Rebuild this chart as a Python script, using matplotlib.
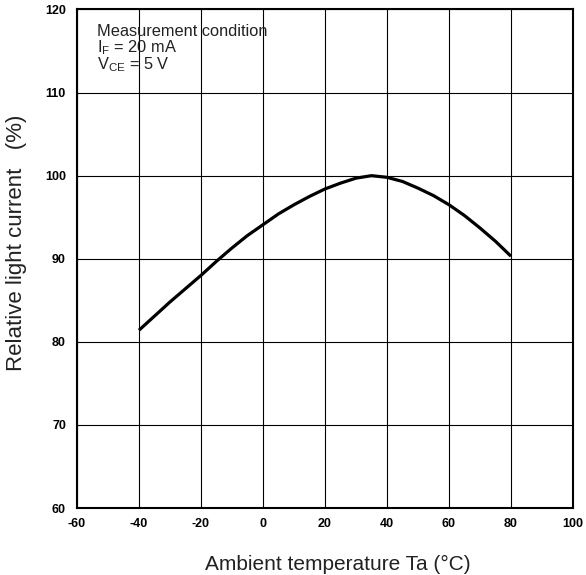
import matplotlib
matplotlib.use("Agg")
import matplotlib.pyplot as plt

# ---------------------------------------------------------------------------
# Data
# ---------------------------------------------------------------------------
temp_c = [-40, -35, -30, -25, -20, -15, -10, -5, 0, 5, 10, 15, 20,
          25, 30, 35, 40, 45, 50, 55, 60, 65, 70, 75, 80]
rel_current = [81.4, 83.1, 84.8, 86.4, 88.0, 89.7, 91.3, 92.8, 94.1, 95.4,
               96.5, 97.5, 98.4, 99.1, 99.7, 100.0, 99.8, 99.3, 98.5, 97.6,
               96.5, 95.2, 93.7, 92.1, 90.3]

x_ticks = [-60, -40, -20, 0, 20, 40, 60, 80, 100]
y_ticks = [60, 70, 80, 90, 100, 110, 120]

condition_lines = [
    "Measurement condition",
    r"I$_\mathregular{F}$ = 20 mA",
    r"V$_\mathregular{CE}$ = 5 V",
]

plt.rcParams["font.family"] = ["Liberation Sans", "DejaVu Sans"]
plt.rcParams["mathtext.default"] = "regular"
plt.rcParams["axes.unicode_minus"] = False   # plain hyphen like the datasheet

fig = plt.figure(figsize=(5.86, 5.75), dpi=100)
ax = fig.add_axes([0.1314, 0.1165, 0.8464, 0.867])

ax.plot(temp_c, rel_current, color="black", linewidth=2.3,
        solid_capstyle="butt", zorder=3)

ax.set_xlim(x_ticks[0], x_ticks[-1])
ax.set_ylim(y_ticks[0], y_ticks[-1])
ax.set_xticks(x_ticks)
ax.set_yticks(y_ticks)
ax.grid(True, color="black", linewidth=0.8)
ax.tick_params(length=0, labelsize=9)
ax.tick_params(axis="x", pad=7)
ax.tick_params(axis="y", pad=8)
for lbl in ax.get_xticklabels() + ax.get_yticklabels():
    lbl.set_fontweight("bold")

for side in ax.spines.values():
    side.set_linewidth(1.5)

ax.set_xlabel("Ambient temperature Ta (°C)", fontsize=15, color="#222222")
ax.xaxis.set_label_coords(0.525, -0.095)
ax.set_ylabel("Relative light current   (%)", fontsize=16, color="#222222")
ax.yaxis.set_label_coords(-0.101, 0.532)

ax.text(0.04, 0.97, "\n".join(condition_lines), transform=ax.transAxes,
        fontsize=11.8, va="top", ha="left", color="#222222",
        linespacing=0.9)

fig.savefig("out.png", dpi=100)
